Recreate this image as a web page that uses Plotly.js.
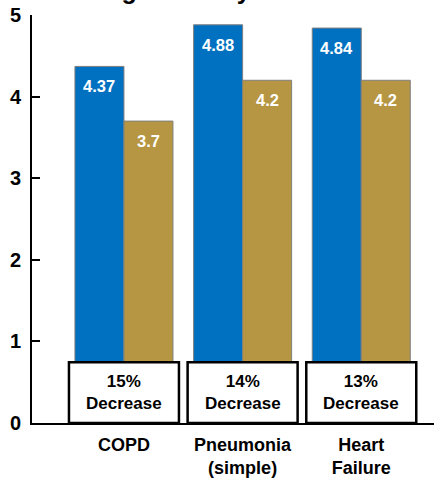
<!DOCTYPE html>
<html>
<head>
<meta charset="utf-8">
<script src="https://cdn.plot.ly/plotly-3.0.1.min.js"></script>
<style>html,body{margin:0;padding:0;background:#fff}#chart{width:434px;height:480px}</style>
</head>
<body>
<div id="chart"></div>
<script>
// ---- data ----
const categories = ["COPD", "Pneumonia<br>(simple)", "Heart<br>Failure"];
const seriesNames = ["Before", "After"];
const beforeValues = [4.37, 4.88, 4.84];
const afterValues = [3.7, 4.2, 4.2];
const decreaseLabels = ["15%", "14%", "13%"];
const titleText = "Length of Stay";

// ---- styles ----
const BLUE = "#0071C1";
const GOLD = "#B69642";
const FONT = "Liberation Sans, Arial, sans-serif";
const bargap = 0.174;
const barHalf = (1 - bargap) / 4; // center offset of each bar within group

const traces = [
  {type: "bar", name: seriesNames[0], x: categories, y: beforeValues,
   marker: {color: BLUE, line: {color: "#7f7f7f", width: 1}}, hoverinfo: "none"},
  {type: "bar", name: seriesNames[1], x: categories, y: afterValues,
   marker: {color: GOLD, line: {color: "#7f7f7f", width: 1}}, hoverinfo: "none"}
];

const annotations = [];
const shapes = [];
categories.forEach((c, i) => {
  annotations.push({x: i - barHalf, y: beforeValues[i], xref: "x", yref: "y",
    text: beforeValues[i].toString(), showarrow: false, yanchor: "middle", yshift: -20,
    font: {family: FONT, size: 16.5, color: "#fff", weight: 700}});
  annotations.push({x: i + barHalf, y: afterValues[i], xref: "x", yref: "y",
    text: afterValues[i].toString(), showarrow: false, yanchor: "middle", yshift: -20,
    font: {family: FONT, size: 16.5, color: "#fff", weight: 700}});
  shapes.push({type: "rect", xref: "x", yref: "y", x0: i - 0.4635, x1: i + 0.4635, y0: 0, y1: 0.745,
    fillcolor: "#fff", line: {color: "#000", width: 2.5}, layer: "above"});
  annotations.push({x: i, y: 0.3725, xref: "x", yref: "y", showarrow: false, yanchor: "middle",
    text: decreaseLabels[i] + "<br>Decrease",
    font: {family: FONT, size: 17, color: "#000", weight: 700}});
});
annotations.push({x: (164 - 32) / (434 - 32), xref: "paper", y: 1, yref: "paper", showarrow: false,
  xanchor: "center", yanchor: "bottom", yshift: 9, text: titleText,
  font: {family: FONT, size: 25, color: "#000", weight: 700}});

const layout = {
  width: 434, height: 480,
  margin: {l: 32, r: 0, t: 15, b: 57, pad: 0},
  paper_bgcolor: "#fff", plot_bgcolor: "#fff",
  showlegend: false,
  barmode: "group", bargap: bargap, bargroupgap: 0,
  xaxis: {type: "category", range: [-0.775, 2.613], showgrid: false, zeroline: false,
    showline: true, linecolor: "#000", linewidth: 2, ticks: "",
    ticklabelstandoff: 4,
    tickfont: {family: FONT, size: 18, color: "#000", weight: 700}},
  yaxis: {range: [0, 5], tickvals: [0, 1, 2, 3, 4, 5], showgrid: false, zeroline: false,
    showline: true, linecolor: "#000", linewidth: 2, ticks: "inside", ticklen: 8,
    tickwidth: 2, tickcolor: "#000", ticklabelstandoff: 5,
    tickfont: {family: FONT, size: 20, color: "#000", weight: 700}},
  annotations: annotations,
  shapes: shapes
};

Plotly.newPlot("chart", traces, layout, {staticPlot: true, displayModeBar: false});
</script>
</body>
</html>
